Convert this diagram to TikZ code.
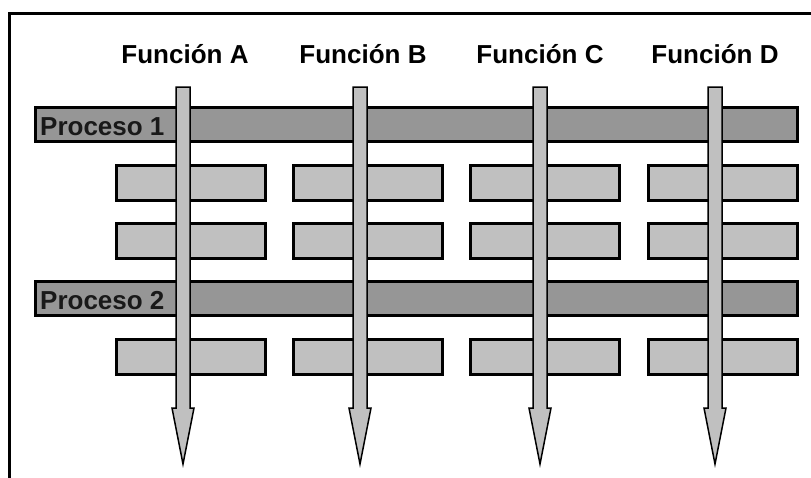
\documentclass[tikz,border=0pt]{standalone}
\usepackage{fontspec}
\setmainfont{Liberation Sans}
\usetikzlibrary{calc}
\definecolor{bardark}{HTML}{969696}
\definecolor{boxlight}{HTML}{C0C0C0}
\begin{document}
\begin{tikzpicture}[x=1pt,y=-1pt,
  bar/.style={draw=black,line width=3pt,fill=bardark,anchor=north west,inner sep=0pt,minimum height=34pt,minimum width=762pt},
  cell/.style={draw=black,line width=3pt,fill=boxlight,anchor=north west,inner sep=0pt,minimum height=35pt,minimum width=149pt},
  lbl/.style={font=\fontsize{26}{30}\selectfont\bfseries,anchor=base,inner sep=0pt},
  plbl/.style={font=\fontsize{26}{30}\selectfont\bfseries,anchor=base west,inner sep=0pt,text=black!90},
  flow/.style={draw=black,line width=1.5pt,fill=boxlight,line join=miter}]
\useasboundingbox (0,0) rectangle (811,477);
% frame
\draw[line width=3pt] (9,480) -- (9,13) -- (815,13);
% labels
\node[lbl] (fA) at (185,63) {Función A};
\node[lbl] (fB) at (363,63) {Función B};
\node[lbl] (fC) at (540,63) {Función C};
\node[lbl] (fD) at (715,63) {Función D};
% process bars
\node[bar] (p1) at (34,106) {};
\node[bar] (p2) at (34,280) {};
\node[plbl] (p1t) at (40,135) {Proceso 1};
\node[plbl] (p2t) at (40,309) {Proceso 2};
% cells
\foreach \i/\x in {1/115,2/292,3/469,4/647}{
  \node[cell] (r1c\i) at (\x,164) {};
  \node[cell] (r2c\i) at (\x,222) {};
  \node[cell] (r3c\i) at (\x,338) {};
}
% arrows
\foreach \n/\x in {A/183,B/360,C/540,D/715}{
  \coordinate (t\n) at (\x,87);
  \coordinate (e\n) at (\x,464);
  \draw[flow] ($(t\n)+(-7,0)$) -- ($(t\n)+(7,0)$) -- ($(e\n)+(7,-56)$) -- ($(e\n)+(11,-56)$)
     -- (e\n) -- ($(e\n)+(-11,-56)$) -- ($(e\n)+(-7,-56)$) -- cycle;
}
\end{tikzpicture}
\end{document}
